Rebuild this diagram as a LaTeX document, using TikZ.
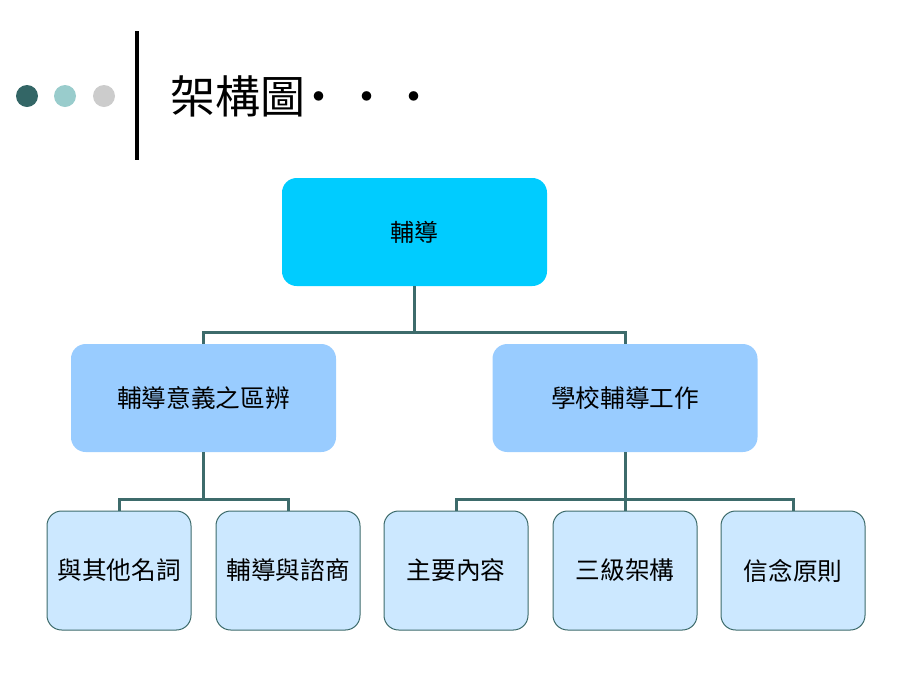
\documentclass[tikz,border=0pt]{standalone}
\usepackage{fontspec}
\setmainfont{Noto Sans CJK TC}
\usetikzlibrary{positioning}

\definecolor{darkteal}{RGB}{51,102,102}
\definecolor{paleteal}{RGB}{153,204,204}
\definecolor{softgrey}{RGB}{204,204,204}
\definecolor{linkteal}{RGB}{61,107,107}
\definecolor{topcyan}{RGB}{0,204,255}
\definecolor{midblue}{RGB}{153,204,255}
\definecolor{lowblue}{RGB}{204,232,255}

\tikzset{
  topbox/.style={rounded corners=11pt, fill=topcyan, minimum width=198.75pt, minimum height=81pt, font=\fontsize{18}{20}\selectfont},
  midbox/.style={rounded corners=11pt, fill=midblue, minimum width=198.75pt, minimum height=81pt, font=\fontsize{18.5}{20}\selectfont},
  lowbox/.style={rounded corners=11pt, fill=lowblue, draw=linkteal, line width=0.75pt, minimum width=108pt, minimum height=89.25pt, font=\fontsize{18.5}{20}\selectfont},
  link/.style={draw=linkteal, line width=2.25pt}
}

\begin{document}
\begin{tikzpicture}[x=0.75pt,y=0.75pt,yscale=-1,xscale=1]
\useasboundingbox (0,0) rectangle (920,690);

% title bullets and rule
\fill[darkteal] (27,96) circle (11);
\fill[paleteal] (65,96) circle (11);
\fill[softgrey] (104,96) circle (11);
\draw[line width=3pt] (137,31) -- (137,160);

% Title
\node[anchor=west, font=\fontsize{33.75}{36}\selectfont] (title) at (166,96) {架構圖\hspace{-7pt}·\hspace{2.5pt}·\hspace{1.5pt}·};

% Boxes
\node[topbox] (root) at (414.5,232) {輔導};
\node[midbox] (dist) at (203.5,398) {輔導意義之區辨};
\node[midbox] (work) at (625,398) {學校輔導工作};
\node[lowbox] (other) at (119,570.5) {與其他名詞};
\node[lowbox] (couns) at (288,570.5) {輔導與諮商};
\node[lowbox] (main) at (456,570.5) {主要內容};
\node[lowbox] (three) at (625,570.5) {三級架構};
\node[lowbox] (belief) at (793,570.5) {信念原則};

% Connectors
\draw[link] (root.south) -- ++(0,46) -| (dist.north);
\draw[link] (root.south) ++(0,46) -| (work.north);
\draw[link] (dist.south) -- ++(0,47) -| (other.north);
\draw[link] (dist.south) ++(0,47) -| (couns.north);
\draw[link] (work.south) -- ++(0,47) -| (main.north);
\draw[link] (work.south) ++(0,47) -| (belief.north);
\draw[link] (work.south) -- (three.north);

\end{tikzpicture}
\end{document}
